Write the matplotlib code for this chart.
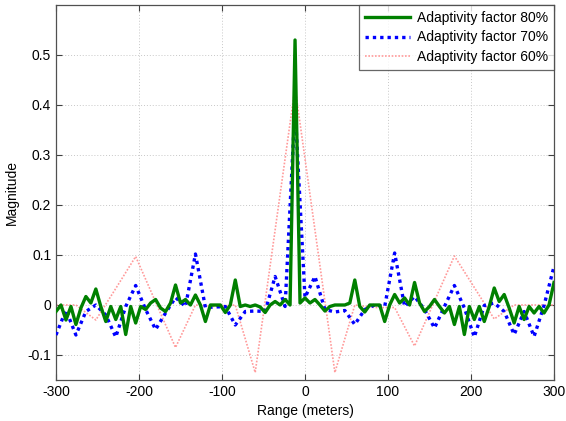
import numpy as np
import matplotlib
matplotlib.use("Agg")
import matplotlib.pyplot as plt
from matplotlib.ticker import FuncFormatter

plt.rcParams['font.family'] = ['Liberation Sans', 'DejaVu Sans']
plt.rcParams['font.size'] = 10
plt.rcParams['axes.unicode_minus'] = False

# Range axis (meters) for each response
range_80 = np.arange(-300, 301, 6)
range_70 = np.arange(-300, 301, 12)
range_60 = np.arange(-300, 301, 24)

mag_80 = [
    -0.013, 0.0, -0.03, -0.003, -0.039, -0.006, 0.017, 0.004, 0.032, -0.003,
    -0.033, -0.003, -0.029, -0.003, -0.059, -0.003, -0.036, -0.003, -0.009, 0.004,
    0.011, -0.006, -0.013, 0.004, 0.04, 0.004, 0.011, 0.0, 0.02, 0.0,
    -0.033, 0.0, 0.0, 0.0, -0.015, 0.0, 0.05, -0.003, 0.0, -0.003,
    0.0, -0.004, -0.015, 0.0, 0.007, 0.0, 0.011, 0.0, 0.53, 0.004,
    0.014, 0.004, 0.011, 0.0, -0.012, -0.003, 0.0, 0.0, 0.0, 0.004,
    0.05, -0.003, -0.014, 0.0, 0.0, 0.0, -0.033, 0.0, 0.021, 0.004,
    0.014, 0.0, 0.045, 0.004, -0.013, -0.003, 0.011, -0.003, -0.016, -0.003,
    -0.039, -0.003, -0.059, -0.003, -0.029, -0.003, -0.033, -0.003, 0.034, 0.007,
    0.021, -0.006, -0.036, -0.003, -0.029, -0.003, -0.016, -0.003, -0.016, 0.0,
    0.045,
]

mag_70 = [
    -0.06, -0.01, -0.06, -0.013, 0.0, -0.02, -0.064, -0.003, 0.039, -0.009,
    -0.049, -0.016, 0.015, -0.003, 0.102, -0.005, -0.004, -0.003, -0.04, -0.013,
    -0.012, -0.013, 0.057, -0.003, 0.396, 0.015, 0.057, -0.009, -0.014, -0.011,
    -0.039, -0.009, 0.0, -0.003, 0.104, -0.003, 0.017, -0.009, -0.046, -0.003,
    0.039, -0.006, -0.064, -0.001, 0.004, -0.013, -0.059, -0.013, -0.063, -0.001,
    0.077,
]

mag_60 = [
    0.0, 0.0, -0.03, 0.033, 0.097, 0.006, -0.085, 0.0, -0.003, 0.0,
    -0.135, 0.15, 0.435, 0.15, -0.135, 0.0, -0.005, -0.005, -0.082, 0.008,
    0.098, 0.035, -0.028, 0.0, 0.0, 0.0,
]

labels = ['Adaptivity factor 80%', 'Adaptivity factor 70%', 'Adaptivity factor 60%']

fig = plt.figure(figsize=(5.66, 4.21), dpi=100)
ax = fig.add_axes([56 / 566, 1 - 380 / 421, (554 - 56) / 566, (380 - 5) / 421])

ax.plot(range_80, mag_80, color='#008000', lw=2.4, ls='-', label=labels[0], zorder=4)
ax.plot(range_70, mag_70, color='#0000ff', lw=2.4, ls=(0, (1, 1.2)), label=labels[1], zorder=3)
ax.plot(range_60, mag_60, color='#ff9a9a', lw=1.2, ls=(0, (1, 1)), label=labels[2], zorder=2)

ax.set_xlim(-300, 300)
ax.set_ylim(-0.15, 0.6)
ax.set_xticks(np.arange(-300, 301, 100))
ax.set_yticks(np.round(np.arange(-0.1, 0.51, 0.1), 1))
ax.yaxis.set_major_formatter(FuncFormatter(lambda v, p: '0' if abs(v) < 1e-9 else f'{v:g}'))

ax.grid(True, color='#c8c8c8', ls=(0, (1, 2)), lw=0.7)
ax.tick_params(direction='in', top=True, right=True, length=4, width=0.8,
               colors='#404040', labelcolor='black', labelsize=10)
for s in ax.spines.values():
    s.set_color('#505050')
    s.set_linewidth(0.9)

ax.set_xlabel('Range (meters)', fontsize=10, labelpad=4)
ax.set_ylabel('Magnitude', fontsize=10, labelpad=6)

leg = ax.legend(loc='upper right', fontsize=10, frameon=True, fancybox=False,
                borderaxespad=0.0, handlelength=3.3, handletextpad=0.5,
                labelspacing=0.42, borderpad=0.4)
leg.get_frame().set_edgecolor('#404040')
leg.get_frame().set_linewidth(0.9)

fig.savefig('out.png', dpi=100)
